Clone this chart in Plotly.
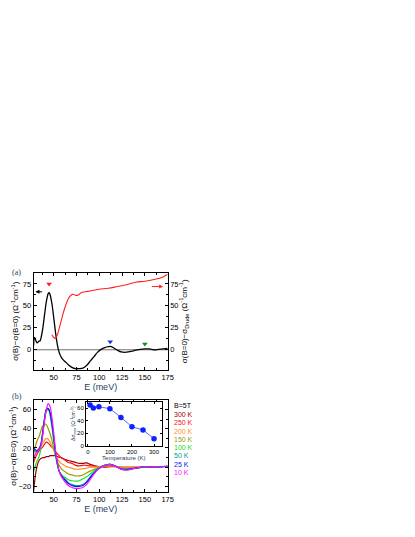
import plotly.graph_objects as go

# ---------------- data ----------------
# Panel (a): black curve sigma(B)-sigma(B=0) at 10 K (left axis)
E_a = [28, 29, 30, 31, 32, 33, 34, 35, 36, 38, 40, 42, 44, 45, 46, 48, 50, 52, 54, 56, 58, 60,
       63, 66, 70, 74, 78, 82, 86, 90, 94, 98, 102, 106, 110, 113, 116, 120, 124, 128, 132,
       136, 140, 145, 150, 155, 160, 165, 170, 175]
dsig_a = [5, 14, 12, 9, 8, 9, 10, 10, 13, 24, 40, 55, 64, 65, 63, 53, 37, 20, 6, -3, -8, -11,
          -14, -17, -20, -21.5, -21.5, -21, -18, -13, -8, -3, 0.5, 2.5, 3.5, 3.7, 2, -0.5, -2.5, -3, -2.5,
          -1.5, -0.5, 0.5, 1, 1, 0, 0.5, 1, 1.5]
# Panel (a): red curve sigma(B=0)-sigma_Drude (right axis)
E_red = [48, 50, 52, 54, 56, 58, 60, 62, 64, 66, 68, 70, 72, 74, 76, 78, 80, 85, 90, 95, 100,
         110, 120, 130, 140, 150, 160, 170, 175]
sig_drude = [17, 14, 13, 17, 24, 32, 40, 47, 53, 58, 61, 63, 63, 62, 62, 63, 65, 66, 67, 68, 69,
             70, 72, 74, 77, 78, 80, 83, 86]
# Marker arrows in panel (a)
mark_E = [45, 112, 150]
mark_y = [75, 9, 6.5]
mark_colors = ["#ff2020", "#1030ff", "#109010"]

# Panel (b)
E_b = [28, 30, 32, 34, 36, 38, 40, 42, 44, 46, 48, 50, 52, 54, 56, 58, 60, 63, 66, 70, 74, 78,
       82, 86, 90, 95, 100, 106, 112, 118, 124, 130, 140, 150, 160, 175]
temps = ["300 K", "250 K", "200 K", "150 K", "100 K", "50 K", "25 K", "10 K"]
colors = ["#a00000", "#ff1010", "#ff9020", "#9a9a00", "#20e020", "#009a9a", "#1010ff", "#ff10ff"]
d300 = [-25, -8, 2, 7, 9, 10, 10, 11, 11, 12, 12, 12, 12, 11, 10.5, 10, 9, 8, 7, 6, 5, 4,
        4, 4.5, 3, 1.5, 0.5, 0, 0.5, 0.5, 0, 0, 0, 0.5, 0.5, 1]
d250 = [5, 10, 14, 17, 19, 21, 24, 26, 25, 23, 21, 19, 16, 14, 12, 10, 9, 7, 5, 4, 2, 1.5,
        2, 2, 1.5, 1, 0.5, 1, 1.5, 1, 0, 0, 0, 0.5, 0.5, 1]
d200 = [8, 14, 18, 20, 22, 25, 28, 30, 29, 26, 22, 18, 13, 9, 6, 4, 3, 1, 0, -1, -2, -2,
        -1.5, -1, 0, 0, 0.5, 1, 1.5, 1, 0, -0.5, 0, 0.5, 0.5, 1]
d150 = [14, 22, 28, 32, 38, 43, 45, 44, 40, 35, 28, 20, 12, 6, 2, -1, -3, -5, -7, -8, -9, -9,
        -8, -6, -4, -2, 0, 1.5, 2, 1, -1, -1.5, -0.5, 0, 0, 1]
d100 = [-5, 2, 7, 11, 20, 35, 50, 58, 60, 54, 42, 27, 12, 2, -4, -7, -9, -11, -13, -14, -14.5, -14,
        -12, -10, -7, -3, 0, 2, 3, 1, -1, -2, -1, 0, 0, 1]
d50 = [16, 17, 16, 18, 24, 37, 51, 60, 61, 56, 45, 30, 15, 4, -4, -8, -10, -13, -16, -18, -19, -19,
       -18, -15, -10, -5, -1, 2, 3, 1, -2, -2, -1, 0.5, 0, 1]
d25 = [20, 18, 17, 19, 24, 36, 50, 60, 61, 57, 46, 32, 16, 4, -4, -8, -11, -14, -17, -19, -20, -20,
       -19, -16, -11, -5, -1, 2, 3, 1, -2, -2.5, -1, 0.5, 0, 1]
d10 = [8, 14, 16, 18, 22, 33, 48, 60, 66, 63, 52, 36, 18, 5, -4, -9, -12, -16, -19, -21, -22, -22,
       -21, -18, -13, -6, -1, 2, 3, 1, -2, -3, -1, 0.5, 0, 1]
series_b = [d300, d250, d200, d150, d100, d50, d25, d10]

# Inset: max change vs temperature
T_inset = [10, 25, 50, 100, 150, 200, 250, 300]
dsig_max = [65, 60, 62, 59, 45, 30, 25, 11]

# ---------------- figure ----------------
W, H = 415, 537
def px(x):
    return x / W
def py(y):
    return 1 - y / H

FONT = "Liberation Sans"
fig = go.Figure()

# panel (a)
fig.add_trace(go.Scatter(x=[28, 175], y=[0, 0], mode="lines", line=dict(color="#707070", width=1),
                         xaxis="x", yaxis="y", hoverinfo="skip"))
fig.add_trace(go.Scatter(x=E_a, y=dsig_a, mode="lines", line=dict(color="black", width=1.3, shape="spline"),
                         xaxis="x", yaxis="y"))
fig.add_trace(go.Scatter(x=E_red, y=sig_drude, mode="lines", line=dict(color="#ff2020", width=1.1, shape="spline"),
                         xaxis="x", yaxis="y2"))
fig.add_trace(go.Scatter(x=mark_E, y=mark_y, mode="markers",
                         marker=dict(symbol="triangle-down", size=5, color=mark_colors),
                         xaxis="x", yaxis="y"))

# panel (b)
for name, c, vals in zip(temps, colors, series_b):
    fig.add_trace(go.Scatter(x=E_b, y=vals, mode="lines", name=name,
                             line=dict(color=c, width=1.2, shape="spline"),
                             xaxis="x3", yaxis="y3"))

# inset
fig.add_trace(go.Scatter(x=T_inset, y=dsig_max, mode="lines+markers",
                         line=dict(color="#5070ff", width=1),
                         marker=dict(color="#1020ff", size=5.5),
                         xaxis="x4", yaxis="y4"))

tickf = dict(family=FONT, size=7.5, color="black")
titlef = dict(family=FONT, size=8, color="black")
ax_common = dict(showline=True, linecolor="black", linewidth=1, ticks="inside", ticklen=3,
                 tickcolor="black", tickwidth=1, showgrid=False, zeroline=False, tickfont=tickf)

fig.update_layout(
    width=W, height=H, autosize=False,
    margin=dict(l=0, r=0, t=0, b=0),
    paper_bgcolor="white", plot_bgcolor="white",
    showlegend=False,
    xaxis=dict(domain=[px(26), px(162)], range=[28, 175], anchor="y",
               tickvals=[50, 75, 100, 125, 150, 175], mirror="ticks",
               minor=dict(ticks="inside", ticklen=2, dtick=12.5, tick0=25, tickcolor="black"),
               title=dict(text="E (meV)", font=dict(family=FONT, size=9), standoff=2), **ax_common),
    yaxis=dict(domain=[py(364), py(266)], range=[-23, 88], anchor="x",
               tickvals=[0, 25, 50, 75], ticktext=["0", "25", "50", "75"],
               minor=dict(ticks="inside", ticklen=2, dtick=12.5, tickcolor="black"),
               title=dict(text="σ(B)−σ(B=0) (Ω<sup>-1</sup>cm<sup>-1</sup>)", font=titlef, standoff=2),
               **ax_common),
    yaxis2=dict(overlaying="y", side="right", anchor="x", range=[-23, 88],
                tickvals=[0, 25, 50, 75],
                minor=dict(ticks="inside", ticklen=2, dtick=12.5, tickcolor="black"),
                title=dict(text="σ(B=0)−σ<sub>Drude</sub> (Ω<sup>-1</sup>cm<sup>-1</sup>)", font=titlef, standoff=2),
                **ax_common),
    xaxis3=dict(domain=[px(26), px(162)], range=[28, 175], anchor="y3",
                tickvals=[50, 75, 100, 125, 150, 175], mirror="ticks",
                minor=dict(ticks="inside", ticklen=2, dtick=12.5, tick0=25, tickcolor="black"),
                title=dict(text="E (meV)", font=dict(family=FONT, size=9), standoff=2), **ax_common),
    yaxis3=dict(domain=[py(487), py(394)], range=[-26, 70], anchor="x3",
                tickvals=[-20, 0, 20, 40, 60], mirror="ticks",
                minor=dict(ticks="inside", ticklen=2, dtick=10, tickcolor="black"),
                title=dict(text="σ(B)−σ(B=0) (Ω<sup>-1</sup>cm<sup>-1</sup>)", font=titlef, standoff=2),
                **ax_common),
    xaxis4=dict(domain=[px(79), px(156)], range=[-9, 335], anchor="y4",
                tickvals=[0, 100, 200, 300], mirror="ticks",
                showline=True, linecolor="black", linewidth=0.8, ticks="inside", ticklen=2,
                tickcolor="black", showgrid=False, zeroline=False,
                tickfont=dict(family=FONT, size=6, color="black"),
                title=dict(text="Temperature (K)", font=dict(family=FONT, size=6), standoff=1)),
    yaxis4=dict(domain=[py(440), py(396)], range=[0, 70], anchor="x4",
                tickvals=[0, 20, 40, 60], mirror="ticks",
                showline=True, linecolor="black", linewidth=0.8, ticks="inside", ticklen=2,
                tickcolor="black", showgrid=False, zeroline=False,
                tickfont=dict(family=FONT, size=6, color="black"),
                title=dict(text="Δσ<sub>max</sub> (Ω<sup>-1</sup>cm<sup>-1</sup>)",
                           font=dict(family=FONT, size=5), standoff=1)),
)

ann = []
ann.append(dict(text="(a)", x=px(2), y=py(266), xref="paper", yref="paper", xanchor="left",
                yanchor="middle", showarrow=False, font=dict(family="Liberation Serif", size=8)))
ann.append(dict(text="(b)", x=px(2), y=py(391), xref="paper", yref="paper", xanchor="left",
                yanchor="middle", showarrow=False, font=dict(family="Liberation Serif", size=8)))
# arrows in panel (a)
ann.append(dict(x=30, y=66, ax=39, ay=66, xref="x", yref="y", axref="x", ayref="y", text="",
                showarrow=True, arrowhead=2, arrowsize=0.8, arrowwidth=1, arrowcolor="black"))
ann.append(dict(x=170, y=72, ax=156, ay=72, xref="x", yref="y", axref="x", ayref="y", text="",
                showarrow=True, arrowhead=2, arrowsize=0.8, arrowwidth=1, arrowcolor="#ff2020"))
# legend texts
ann.append(dict(text="B=5T", x=px(166), y=py(400), xref="paper", yref="paper", xanchor="left",
                yanchor="middle", showarrow=False, font=dict(family=FONT, size=7, color="black")))
for i, (name, c) in enumerate(zip(temps, colors)):
    ann.append(dict(text=name, x=px(166), y=py(409 + 8.3 * i), xref="paper", yref="paper",
                    xanchor="left", yanchor="middle", showarrow=False,
                    font=dict(family=FONT, size=7, color=c)))
fig.update_layout(annotations=ann)

fig.write_html("out.html")
